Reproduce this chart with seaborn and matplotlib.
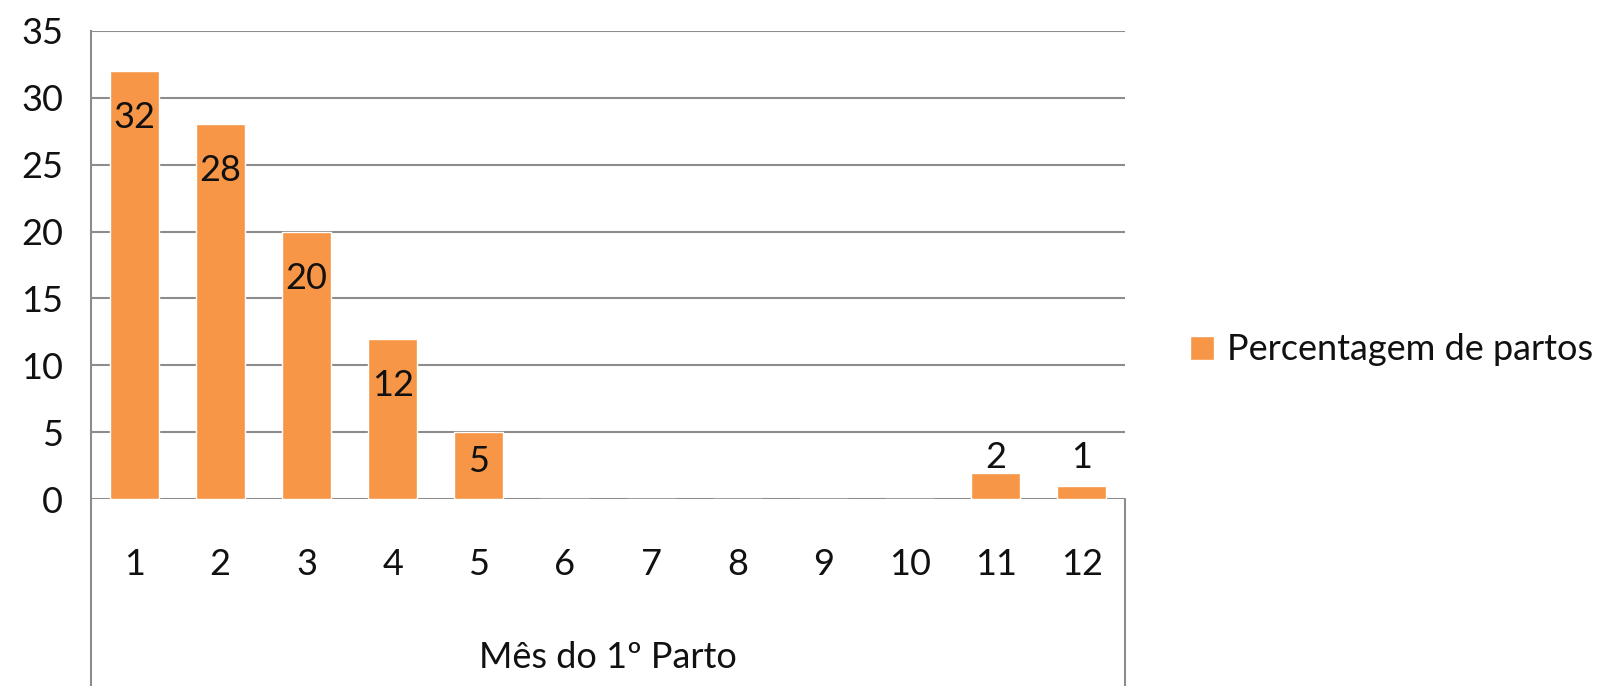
import matplotlib
matplotlib.use("Agg")
import matplotlib.pyplot as plt
from matplotlib.lines import Line2D
import seaborn as sns

# data
meses = ["1", "2", "3", "4", "5", "6", "7", "8", "9", "10", "11", "12"]
percentagem = [32, 28, 20, 12, 5, 0, 0, 0, 0, 0, 2, 1]
serie = "Percentagem de partos"
eixo_x = "Mês do 1º Parto"
yticks = [0, 5, 10, 15, 20, 25, 30, 35]

laranja = "#F79646"
cinza = "#8C8C8C"

sns.set_style("white")
plt.rcParams["font.family"] = ["Lato", "DejaVu Sans"]

W, H = 1598, 686
fig = plt.figure(figsize=(W / 100, H / 100), dpi=100)
left, right, top, bottom = 91, 1125, 30.6, 499.4
ax = fig.add_axes([left / W, 1 - bottom / H, (right - left) / W, (bottom - top) / H])

sns.barplot(x=meses, y=percentagem, color=laranja, width=0.57, saturation=1,
            label=serie, ax=ax)

ax.set_ylim(0, 35)
ax.set_xlim(-0.5, len(meses) - 0.5)
ax.set_yticks(yticks)
ax.yaxis.grid(True, color=cinza, linewidth=1.5)
ax.set_axisbelow(True)
for s in ["top", "right", "bottom"]:
    ax.spines[s].set_visible(False)
ax.spines["left"].set_color(cinza)
ax.spines["left"].set_linewidth(1.5)
ax.tick_params(length=0, labelsize=26, labelcolor="#111111")
ax.tick_params(axis="y", pad=20)
ax.tick_params(axis="x", pad=35)
ax.set_ylabel("")
ax.set_xlabel(eixo_x, fontsize=26, labelpad=43, color="#111111")

# data labels
for i, v in enumerate(percentagem):
    if v == 0:
        continue
    if v >= 10:
        ax.annotate(str(v), (i, v), xytext=(0, -63), textcoords="offset pixels",
                    ha="center", va="bottom", fontsize=26, color="#111111")
    elif v >= 3:
        ax.annotate(str(v), (i, v), xytext=(0, -46), textcoords="offset pixels",
                    ha="center", va="bottom", fontsize=26, color="#111111")
    else:
        ax.annotate(str(v), (i, 2), xytext=(0, -1), textcoords="offset pixels",
                    ha="center", va="bottom", fontsize=26, color="#111111")

# box around the category axis area
fig.add_artist(Line2D([left / W, left / W], [0, 1 - bottom / H], color=cinza, lw=1.5))
fig.add_artist(Line2D([right / W, right / W], [0, 1 - bottom / H], color=cinza, lw=1.5))

if ax.legend_:
    ax.legend_.remove()
h, l = ax.get_legend_handles_labels()
fig.legend(h[:1], l[:1], loc="center left", bbox_to_anchor=(1176 / W, 1 - 350 / H),
           frameon=False, fontsize=26, handlelength=0.65, handleheight=0.65,
           handletextpad=0.35, borderaxespad=0, labelcolor="#111111")

fig.savefig("out.png", dpi=100)
